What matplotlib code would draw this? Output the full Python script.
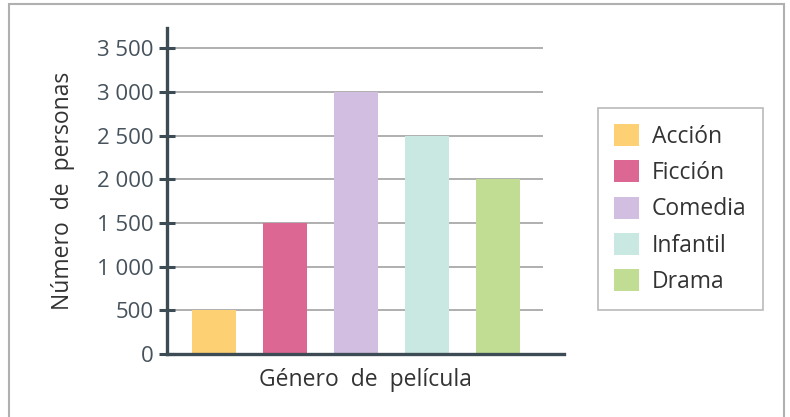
import matplotlib.pyplot as plt
import matplotlib.patches as patches

# data
generos = ['Acción', 'Ficción', 'Comedia', 'Infantil', 'Drama']
personas = [500, 1500, 3000, 2500, 2000]
colores = ['#FDD073', '#DD6793', '#D2BEE0', '#C8E8E1', '#C1DD94']
yticks = [0, 500, 1000, 1500, 2000, 2500, 3000, 3500]
ytick_labels = ['0', '500', '1 000', '1 500', '2 000', '2 500', '3 000', '3 500']

plt.rcParams['font.family'] = ['Open Sans', 'DejaVu Sans']
axis_col = '#3D4B55'
text_col = '#333333'

W, H = 790, 417
fig = plt.figure(figsize=(W / 100, H / 100), dpi=100)

# outer frame
fig.patches.append(patches.Rectangle((9 / W, -0.1), (784 - 9) / W, 1.1 - 4 / H,
                                     transform=fig.transFigure, fill=False,
                                     edgecolor='#B0B0B0', linewidth=1.5))

ax = fig.add_axes([167 / W, 1 - 354 / H, (564 - 167) / W, (354 - 28) / H])

x = list(range(len(generos)))
bars = ax.bar(x, personas, width=0.62, color=colores, zorder=3)

ax.set_xlim(-0.66, 4.93)
ax.set_ylim(0, 3730)

# gridlines
ax.hlines(yticks[1:], -0.66, 4.63, colors='#9A9A9A', linewidth=1.1, zorder=1)

for s in ['top', 'right']:
    ax.spines[s].set_visible(False)
for s in ['left', 'bottom']:
    ax.spines[s].set_color(axis_col)
    ax.spines[s].set_linewidth(2.4)
    ax.spines[s].set_zorder(4)

ax.set_xticks([])
ax.set_yticks(yticks)
ax.set_yticklabels(ytick_labels)
ax.tick_params(axis='y', direction='inout', length=11, width=2.2, color=axis_col,
               labelsize=16, labelcolor='#46525C', pad=4)

ax.set_ylabel('Número  de  personas', fontsize=16.5, color=text_col, labelpad=16)
ax.set_xlabel('Género  de  película', fontsize=16.5, color=text_col, labelpad=10)

leg = fig.legend(bars, generos, loc='upper left', bbox_to_anchor=(598 / W, 1 - 108 / H),
                 fontsize=16.5, frameon=True, fancybox=False, edgecolor='#A8A8A8',
                 handlelength=1.1, handleheight=1.1, handletextpad=0.55,
                 labelspacing=0.5, borderpad=0.7, borderaxespad=0,
                 labelcolor=text_col)
leg.get_frame().set_linewidth(1.2)

plt.savefig('out.png', dpi=100)
